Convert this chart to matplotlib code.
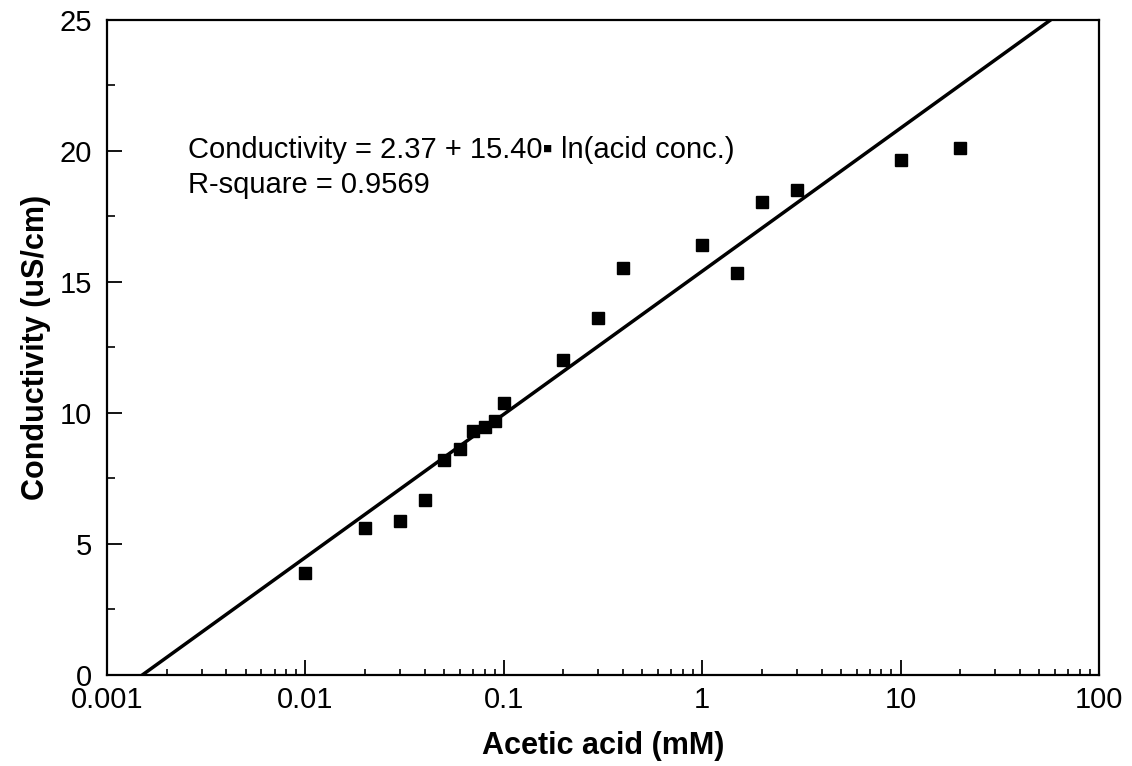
import numpy as np
import matplotlib
matplotlib.use("Agg")
import matplotlib.pyplot as plt
from matplotlib.ticker import FixedLocator, LogLocator, NullFormatter, MultipleLocator

plt.rcParams['font.family'] = ['Liberation Sans', 'DejaVu Sans']

acid_mM = [0.01, 0.02, 0.03, 0.04, 0.05, 0.06, 0.07, 0.08, 0.09, 0.1,
           0.2, 0.3, 0.4, 1, 1.5, 2, 3, 10, 20]
conductivity = [3.9, 5.6, 5.86, 6.66, 8.19, 8.61, 9.29, 9.44, 9.67, 10.36,
                12.0, 13.6, 15.54, 16.41, 15.35, 18.05, 18.5, 19.65, 20.1]

fit_intercept = 15.40
fit_slope = 2.37
fit_x_range = [0.0015, 100]

x_ticks = [0.001, 0.01, 0.1, 1, 10, 100]
x_tick_labels = ['0.001', '0.01', '0.1', '1', '10', '100']
y_ticks = [0, 5, 10, 15, 20, 25]

fig = plt.figure(figsize=(11.32, 7.66), dpi=100)
ax = fig.add_axes([0.0945, 0.1188, 0.8763, 0.8557])

fx = np.array(fit_x_range)
fy = fit_intercept + fit_slope * np.log(fx)
ax.plot(fx, fy, color='black', lw=2.5, zorder=2)
ax.plot(acid_mM, conductivity, 's', color='black', ms=8, zorder=3)

ax.set_xscale('log')
ax.set_xlim(0.001, 100)
ax.set_ylim(0, 25)
ax.xaxis.set_major_locator(FixedLocator(x_ticks))
ax.set_xticklabels(x_tick_labels)
ax.xaxis.set_minor_locator(LogLocator(base=10, subs=np.arange(2, 10)))
ax.xaxis.set_minor_formatter(NullFormatter())
ax.set_yticks(y_ticks)
ax.yaxis.set_minor_locator(MultipleLocator(2.5))

ax.tick_params(which='major', direction='in', length=11, width=1.3, labelsize=21)
ax.tick_params(axis='x', which='minor', direction='in', length=4.5, width=1.2)
ax.tick_params(axis='y', which='minor', direction='in', length=6, width=1.2)
ax.tick_params(axis='x', which='major', pad=8)
ax.tick_params(axis='y', which='major', pad=11)
for s in ax.spines.values():
    s.set_linewidth(1.6)

ax.set_xlabel('Acetic acid (mM)', fontsize=22, fontweight='bold', labelpad=12)
ax.set_ylabel('Conductivity (uS/cm)', fontsize=22, fontweight='bold', labelpad=6)

ax.text(0.0817, 0.789, 'Conductivity = 2.37 + 15.40\u25aa ln(acid conc.)',
        transform=ax.transAxes, fontsize=21, va='baseline', ha='left')
ax.text(0.0817, 0.7357, 'R-square = 0.9569',
        transform=ax.transAxes, fontsize=21, va='baseline', ha='left')

fig.savefig('out.png', dpi=100)
